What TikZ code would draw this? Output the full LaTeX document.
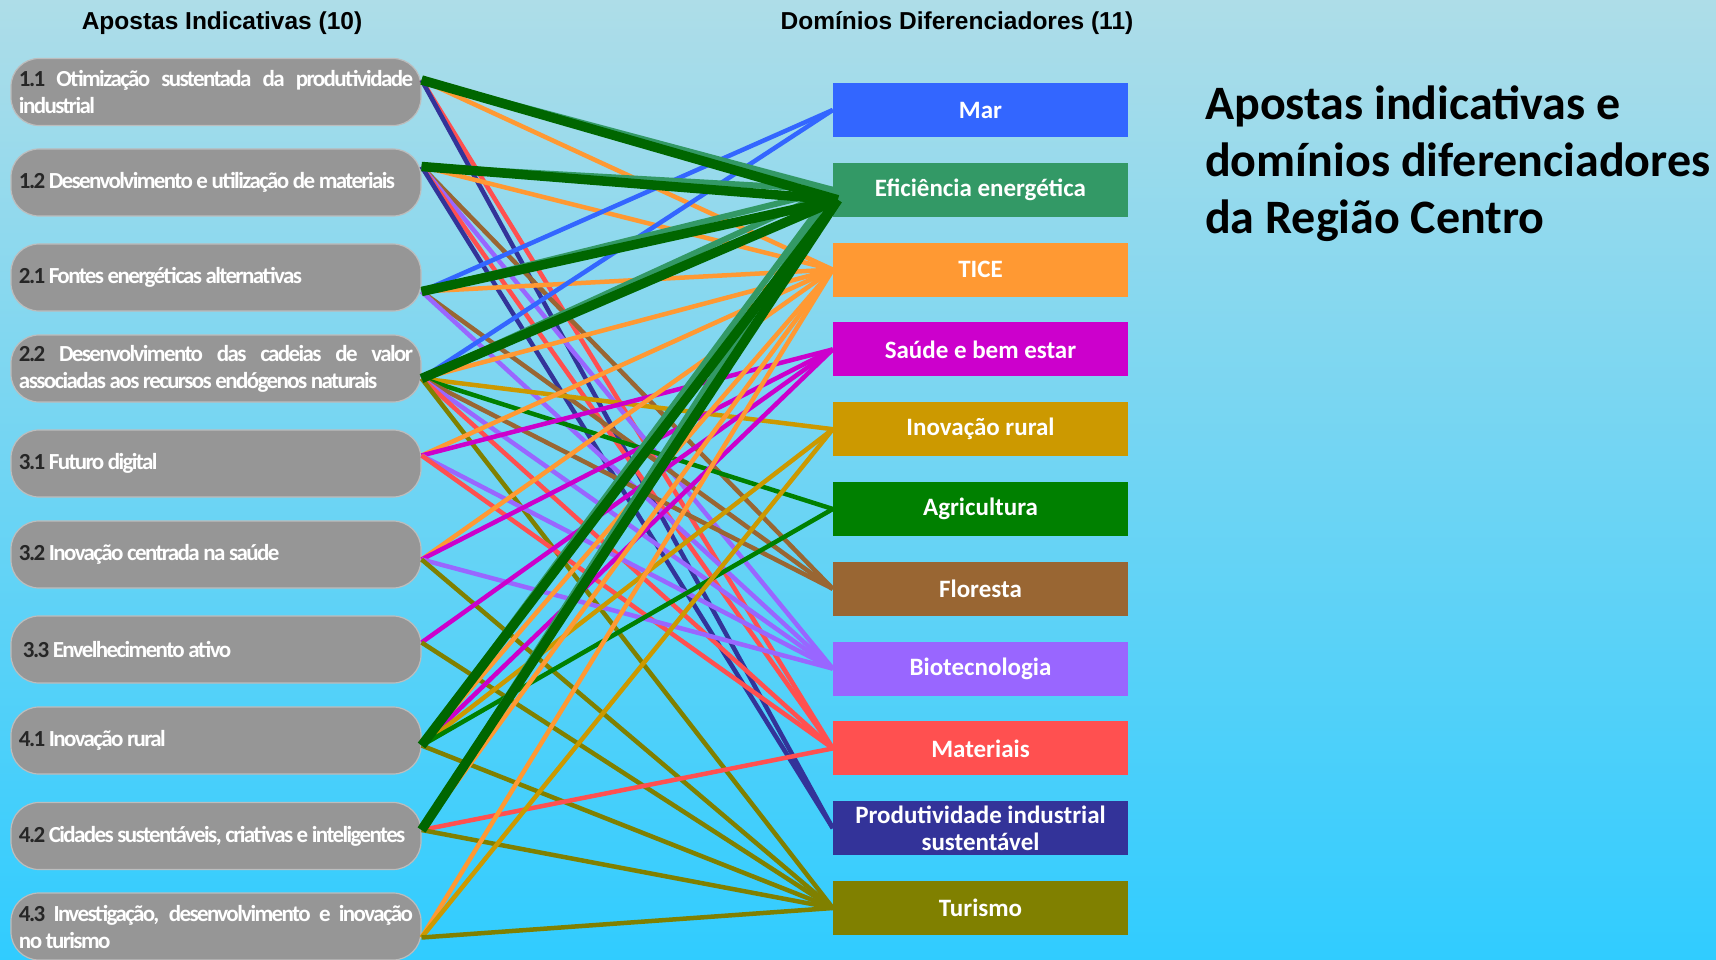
\documentclass[tikz,border=0pt]{standalone}
\usepackage{fontspec}
\newfontfamily\calfont{Carlito}
\newfontfamily\boxfont[LetterSpace=-7]{Carlito}
\newfontfamily\hdfont{Liberation Sans}
\definecolor{bgtop}{HTML}{AEDDE8}
\definecolor{bgbot}{HTML}{30CCFF}
\definecolor{boxgrey}{HTML}{969696}
\definecolor{boxedge}{HTML}{BDBDBD}
\definecolor{numcol}{HTML}{262626}
\definecolor{cmar}{HTML}{3366FF}
\definecolor{cefi}{HTML}{339966}
\definecolor{ctice}{HTML}{FF9933}
\definecolor{csau}{HTML}{CC00CC}
\definecolor{cinov}{HTML}{CC9900}
\definecolor{cagr}{HTML}{008000}
\definecolor{cflo}{HTML}{996633}
\definecolor{cbio}{HTML}{9966FF}
\definecolor{cmat}{HTML}{FF5050}
\definecolor{cprod}{HTML}{333399}
\definecolor{ctur}{HTML}{808000}
\definecolor{cthick}{HTML}{006600}
\newcommand\bn[1]{{\color{numcol}#1}}
\begin{document}
\begin{tikzpicture}[x=1pt,y=-1pt,
  lbox/.style={draw=boxedge,line width=1.2pt,fill=boxgrey,rounded corners=28pt,minimum width=410pt,minimum height=67pt,inner sep=0pt,text=white,font=\boxfont\bfseries\fontsize{23}{27}\selectfont},
  rbox/.style={fill=#1,minimum width=295pt,minimum height=54pt,inner sep=0pt,text=white,align=center,font=\calfont\bfseries\fontsize{25}{27}\selectfont},
  hdr/.style={font=\hdfont\bfseries\fontsize{24.5}{28}\selectfont,text=black},
  link/.style={line width=4.5pt},
  biglink/.style={line width=9.5pt,cthick},
  shadowlink/.style={line width=6pt,cefi}]
\useasboundingbox (0,0) rectangle (1716,960);
\shade[top color=bgtop,bottom color=bgbot] (0,0) rectangle (1716,960);

\node[hdr] (h1) at (222,23) {Apostas Indicativas (10)};
\node[hdr] (h2) at (957,23) {Domínios Diferenciadores (11)};

\node[lbox] (a11) at (216,92) {\parbox{394pt}{\bn{1.1} Otimização sustentada da produtividade\linebreak industrial}};
\node[lbox] (a12) at (216,182.5) {\parbox{394pt}{\bn{1.2} Desenvolvimento e utilização de materiais}};
\node[lbox] (a21) at (216,277.5) {\parbox{394pt}{\bn{2.1} Fontes energéticas alternativas}};
\node[lbox] (a22) at (216,368.5) {\parbox{394pt}{\bn{2.2} Desenvolvimento das cadeias de valor\linebreak associadas aos recursos endógenos naturais}};
\node[lbox] (a31) at (216,463.5) {\parbox{394pt}{\bn{3.1} Futuro digital}};
\node[lbox] (a32) at (216,554.5) {\parbox{394pt}{\bn{3.2} Inovação centrada na saúde}};
\node[lbox] (a33) at (216,649.5) {\parbox{394pt}{\hspace*{4pt}\bn{3.3} Envelhecimento ativo}};
\node[lbox] (a41) at (216,740.5) {\parbox{394pt}{\bn{4.1} Inovação rural}};
\node[lbox] (a42) at (216,836) {\parbox{394pt}{\bn{4.2} Cidades sustentáveis, criativas e inteligentes}};
\node[lbox] (a43) at (216,926.5) {\parbox{394pt}{\bn{4.3} Investigação, desenvolvimento e inovação\linebreak no turismo}};

\node[rbox=cmar]  (d1)  at (980.5,110)   {Mar};
\node[rbox=cefi]  (d2)  at (980.5,189.8) {Eficiência energética};
\node[rbox=ctice] (d3)  at (980.5,269.6) {TICE};
\node[rbox=csau]  (d4)  at (980.5,349.4) {Saúde e bem estar};
\node[rbox=cinov] (d5)  at (980.5,429.2) {Inovação rural};
\node[rbox=cagr]  (d6)  at (980.5,509)   {Agricultura};
\node[rbox=cflo]  (d7)  at (980.5,588.8) {Floresta};
\node[rbox=cbio]  (d8)  at (980.5,668.6) {Biotecnologia};
\node[rbox=cmat]  (d9)  at (980.5,748.4) {Materiais};
\node[rbox=cprod] (d10) at (980.5,828.2) {Produtividade industrial\\sustentável};
\node[rbox=ctur]  (d11) at (980.5,908)   {Turismo};

\node[anchor=north west,align=left,inner sep=0pt,font=\calfont\bfseries\fontsize{48}{57}\selectfont] (title) at (1205,86) {Apostas indicativas e\\domínios diferenciadores\\da Região Centro};

\coordinate (s11) at ([yshift=12pt]a11.east);
\coordinate (s12) at ([yshift=16pt]a12.east);
\coordinate (s21) at ([yshift=-14pt]a21.east);
\coordinate (s22) at ([yshift=-10pt]a22.east);
\coordinate (s31) at ([yshift=8pt]a31.east);
\coordinate (s32) at ([yshift=-5pt]a32.east);
\coordinate (s33) at ([yshift=7pt]a33.east);
\coordinate (s41) at ([yshift=-5pt]a41.east);
\coordinate (s42) at ([yshift=6pt]a42.east);
\coordinate (s43) at ([yshift=-11pt]a43.east);
\coordinate (e2) at ([xshift=5pt,yshift=-10pt]d2.west);

\foreach \s/\d/\c in {s11/d3/ctice, s11/d9/cmat, s11/d10/cprod,
  s12/d3/ctice, s12/d7/cflo, s12/d8/cbio, s12/d9/cmat, s12/d10/cprod,
  s21/d1/cmar, s21/d3/ctice, s21/d7/cflo, s21/d8/cbio,
  s22/d1/cmar, s22/d3/ctice, s22/d5/cinov, s22/d6/cagr, s22/d7/cflo, s22/d8/cbio, s22/d9/cmat, s22/d11/ctur,
  s31/d3/ctice, s31/d4/csau, s31/d8/cbio, s31/d9/cmat,
  s32/d3/ctice, s32/d4/csau, s32/d8/cbio, s32/d11/ctur,
  s33/d4/csau, s33/d11/ctur,
  s41/d3/ctice, s41/d4/csau, s41/d5/cinov, s41/d6/cagr, s41/d11/ctur,
  s42/d3/ctice, s42/d9/cmat, s42/d11/ctur,
  s43/d3/ctice, s43/d5/cinov, s43/d11/ctur}
  {\draw[link,\c] (\s) -- (\d.west);}

\foreach \s in {s11,s12,s21,s22,s41,s42}
  {\draw[shadowlink] (\s) -- (d2.west);}
\foreach \s in {s11,s12,s21,s22,s41,s42}
  {\draw[biglink] (\s) -- (e2);}
\end{tikzpicture}
\end{document}
